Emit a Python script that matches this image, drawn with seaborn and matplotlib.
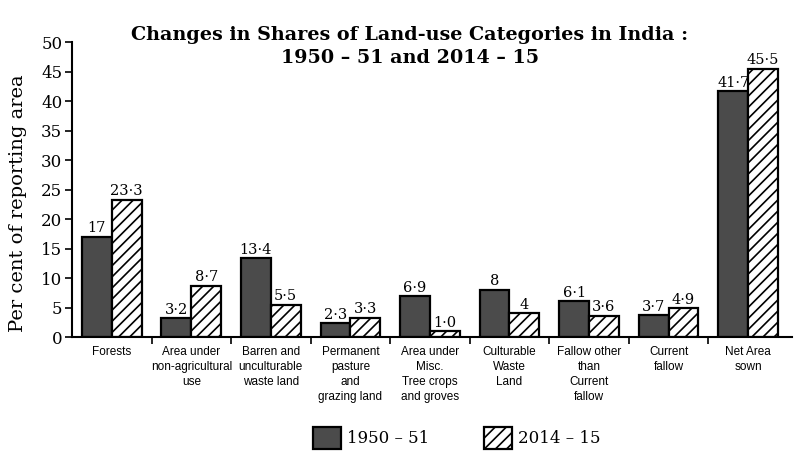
import numpy as np
import pandas as pd
import seaborn as sns
import matplotlib.pyplot as plt
from matplotlib.patches import Patch

categories = [
    "Forests",
    "Area under\nnon-agricultural\nuse",
    "Barren and\nunculturable\nwaste land",
    "Permanent\npasture\nand\ngrazing land",
    "Area under\nMisc.\nTree crops\nand groves",
    "Culturable\nWaste\nLand",
    "Fallow other\nthan\nCurrent\nfallow",
    "Current\nfallow",
    "Net Area\nsown",
]
years = ["1950 – 51", "2014 – 15"]
values_1950 = [17, 3.2, 13.4, 2.3, 6.9, 8, 6.1, 3.7, 41.7]
values_2014 = [23.3, 8.7, 5.5, 3.3, 1.0, 4, 3.6, 4.9, 45.5]
labels_1950 = ["17", "3·2", "13·4", "2·3", "6·9", "8", "6·1", "3·7", "41·7"]
labels_2014 = ["23·3", "8·7", "5·5", "3·3", "1·0", "4", "3·6", "4·9", "45·5"]

df = pd.DataFrame({
    "category": categories * 2,
    "year": [years[0]] * len(categories) + [years[1]] * len(categories),
    "share": values_1950 + values_2014,
})

sns.set_style("ticks")
plt.rcParams["font.family"] = ["DejaVu Serif"]
plt.rcParams["text.color"] = "black"
plt.rcParams["axes.labelcolor"] = "black"
plt.rcParams["xtick.color"] = "black"
plt.rcParams["ytick.color"] = "black"
plt.rcParams["axes.edgecolor"] = "black"
plt.rcParams["hatch.linewidth"] = 1.2

fig = plt.figure(figsize=(8.07, 4.66), dpi=100)
ax = fig.add_axes([0.0892, 0.2768, 0.892, 0.633])

sns.barplot(
    data=df, x="category", y="share", hue="year",
    palette=["#4b4b4b", "white"], width=0.75, gap=0,
    edgecolor="black", linewidth=1.6, saturation=1, ax=ax, legend=False,
)

for bar in ax.containers[1]:
    bar.set_hatch("///")

ax.bar_label(ax.containers[0], labels=labels_1950, padding=1, fontsize=10.5)
ax.bar_label(ax.containers[1], labels=labels_2014, padding=1, fontsize=10.5)

ax.set_ylim(0, 50)
ax.set_xlim(-0.5, 8.55)
ax.set_yticks(np.arange(0, 51, 5))
ax.tick_params(axis="y", labelsize=12, length=5, width=1.2, direction="out", pad=2)

# category labels centered under groups, tick marks at group boundaries
ax.set_xticks(np.arange(0.5, 8, 1))
ax.set_xticklabels([])
ax.tick_params(axis="x", length=5, width=1.2, direction="out")
for i, name in enumerate(categories):
    ax.text(i, -1.5, name, ha="center", va="top", fontsize=8.5,
            family=["Liberation Sans Narrow", "Liberation Sans", "DejaVu Sans"],
            linespacing=1.35)

ax.set_xlabel("")
ax.set_ylabel("Per cent of reporting area", fontsize=14, labelpad=3)
ax.yaxis.set_label_coords(-0.062, 0.454)
sns.despine(ax=ax)
ax.spines["left"].set_linewidth(1.5)
ax.spines["bottom"].set_linewidth(1.5)

fig.text(0.508, 0.9, "Changes in Shares of Land-use Categories in India :\n1950 – 51 and 2014 – 15",
         ha="center", va="center", fontsize=13.8, fontweight="bold", linespacing=1.3)

handles = [
    Patch(facecolor="#4b4b4b", edgecolor="black", linewidth=1.6),
    Patch(facecolor="white", edgecolor="black", linewidth=1.6, hatch="///"),
]
fig.legend(handles, years, loc="center", bbox_to_anchor=(0.566, 0.06), ncol=2,
           frameon=False, fontsize=12, handlelength=1.7, handleheight=1.7,
           handletextpad=0.35, columnspacing=3.3)

fig.savefig("out.png", dpi=100)
